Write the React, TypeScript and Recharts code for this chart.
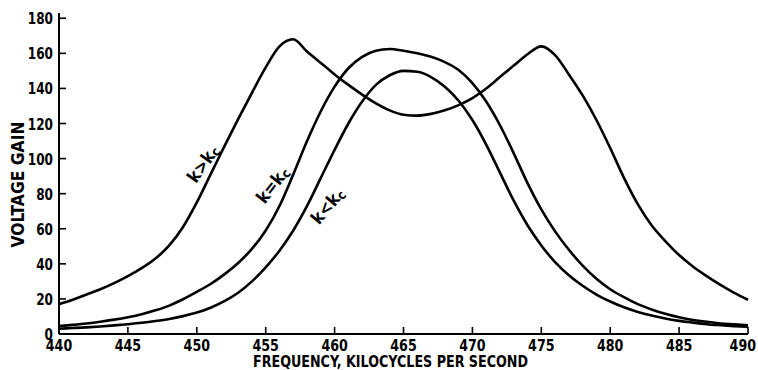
import React from 'react';
import { LineChart, Line, XAxis, YAxis, ReferenceDot } from 'recharts';

const frequencies = [
  440, 441, 442, 443, 444, 445, 446, 447, 448, 449,
  450, 451, 452, 453, 454, 455, 456, 457, 458, 459,
  460, 461, 462, 463, 464, 465, 466, 467, 468, 469,
  470, 471, 472, 473, 474, 475, 476, 477, 478, 479,
  480, 481, 482, 483, 484, 485, 486, 487, 488, 489, 490,
];

// k > kc (over-coupled, double hump)
const overCoupled = [
  17, 19.5, 22.5, 25.5, 29, 33, 37.5, 43, 50.5, 61,
  75, 91, 107, 122.5, 137.5, 152, 164, 168, 161, 154.5,
  148, 142, 136.5, 131.5, 127.5, 125, 124.5, 125.5, 127.5, 130.5,
  134.5, 140, 146.5, 153, 159.5, 164, 159, 148, 136, 122,
  106, 89, 74, 62, 53, 45, 38.5, 33, 28, 23.5, 19.5,
];

// k = kc (critical coupling, flat top)
const criticalCoupled = [
  4.5, 5.2, 6, 7, 8.2, 9.6, 11.3, 13.5, 16.2, 19.8,
  24, 28.5, 34, 40.5, 48.5, 59, 73, 91, 110, 127,
  141, 151.5, 158, 161.5, 162.5, 161.5, 160, 158, 155, 150.5,
  143, 132.5, 119, 103, 86, 71, 58.5, 48, 39, 31.5,
  25.5, 21, 17, 14, 11.5, 9.5, 8, 7, 6, 5.5, 5,
];

// k < kc (under-coupled, single peak)
const underCoupled = [
  3, 3.4, 3.8, 4.3, 4.9, 5.6, 6.4, 7.4, 8.6, 10.2,
  12.2, 15, 18.7, 23.5, 30, 38, 47.5, 59, 73, 89,
  105, 120, 132.5, 142, 147.5, 150, 149.5, 146.5, 141, 133,
  122, 108, 92, 76, 62, 50.5, 41, 33.5, 27.5, 22.5,
  18.5, 15.2, 12.6, 10.5, 8.8, 7.5, 6.5, 5.6, 5, 4.5, 4,
];

const xTicks = [440, 445, 450, 455, 460, 465, 470, 475, 480, 485, 490];
const yTicks = [0, 20, 40, 60, 80, 100, 120, 140, 160, 180];

const curveLabels = [
  { main: 'k>k', sub: 'c', f: 450.45, v: 97, angle: -55 },
  { main: 'k=k', sub: 'c', f: 455.5, v: 85, angle: -52 },
  { main: 'k<k', sub: 'c', f: 459.5, v: 73, angle: -50 },
];

const xTitle = 'FREQUENCY, KILOCYCLES PER SECOND';
const yTitle = 'VOLTAGE GAIN';

const data = frequencies.map((f, i) => ({
  f,
  over: overCoupled[i],
  crit: criticalCoupled[i],
  under: underCoupled[i],
}));

const FONT = '"DejaVu Sans Condensed", "DejaVu Sans", sans-serif';

function XTick(props: any) {
  const { x, y, payload } = props;
  const s = String(payload.value);
  const isLast = payload.value === xTicks[xTicks.length - 1];
  return (
    <g>
      <line x1={x} x2={x} y1={y} y2={y - 7} stroke="#000" strokeWidth={1.6} />
      <text
        x={isLast ? x + 8 : x}
        y={y + 17}
        textAnchor={isLast ? 'end' : 'middle'}
        fontFamily={FONT}
        fontWeight="bold"
        fontSize={16}
        fill="#000"
        textLength={s.length * 8.8}
        lengthAdjust="spacingAndGlyphs"
      >
        {s}
      </text>
    </g>
  );
}

function YTick(props: any) {
  const { x, y, payload } = props;
  const s = String(payload.value);
  return (
    <g>
      <line x1={x} x2={x + 7} y1={y} y2={y} stroke="#000" strokeWidth={1.6} />
      <text
        x={x - 6}
        y={y + 6}
        textAnchor="end"
        fontFamily={FONT}
        fontWeight="bold"
        fontSize={16}
        fill="#000"
        textLength={s.length * 8.4}
        lengthAdjust="spacingAndGlyphs"
      >
        {s}
      </text>
    </g>
  );
}

function XTitle(props: any) {
  const vb = props.viewBox || {};
  const cx = vb.x + vb.width / 2 - 13;
  const y = vb.y + 33;
  return (
    <text
      x={cx}
      y={y}
      textAnchor="middle"
      fontFamily={FONT}
      fontWeight="bold"
      fontSize={15}
      fill="#000"
      textLength={275}
      lengthAdjust="spacingAndGlyphs"
    >
      {xTitle}
    </text>
  );
}

function YTitle(props: any) {
  const vb = props.viewBox || {};
  const x = vb.x + 24;
  const cy = vb.y + vb.height / 2 + 11;
  return (
    <text
      x={x}
      y={cy}
      transform={`rotate(-90 ${x} ${cy})`}
      textAnchor="middle"
      fontFamily={FONT}
      fontWeight="bold"
      fontSize={17}
      fill="#000"
      textLength={126}
      lengthAdjust="spacingAndGlyphs"
    >
      {yTitle}
    </text>
  );
}

function makeCurveLabel(main: string, sub: string, angle: number) {
  return (p: any) => {
    const cx = p.cx;
    const cy = p.cy;
    return (
      <text
        x={cx}
        y={cy}
        transform={`rotate(${angle} ${cx} ${cy})`}
        textAnchor="middle"
        dominantBaseline="central"
        fontFamily={FONT}
        fontWeight="bold"
        fontSize={17.5}
        fill="#000"
      >
        {main}
        <tspan fontSize={13} dy={3}>
          {sub}
        </tspan>
      </text>
    );
  };
}

export default function App() {
  return (
    <div style={{ width: 758, height: 370 }}>
      <style>{'html, body { margin: 0; padding: 0; overflow: hidden; }'}</style>
      <LineChart
        width={758}
        height={370}
        data={data}
        margin={{ top: 13, right: 10, bottom: 0, left: 0 }}
      >
        <XAxis
          dataKey="f"
          type="number"
          domain={[440, 490]}
          ticks={xTicks}
          interval={0}
          height={36}
          tickSize={0}
          tickMargin={0}
          tickLine={false}
          axisLine={{ stroke: '#000', strokeWidth: 2 }}
          tick={<XTick />}
          label={<XTitle />}
        />
        <YAxis
          type="number"
          domain={[0, 183]}
          ticks={yTicks}
          interval={0}
          width={59}
          tickSize={0}
          tickMargin={0}
          tickLine={false}
          axisLine={{ stroke: '#000', strokeWidth: 2 }}
          tick={<YTick />}
          label={<YTitle />}
        />
        <Line
          type="monotone"
          dataKey="over"
          stroke="#000"
          strokeWidth={2.6}
          dot={false}
          isAnimationActive={false}
        />
        <Line
          type="monotone"
          dataKey="crit"
          stroke="#000"
          strokeWidth={2.6}
          dot={false}
          isAnimationActive={false}
        />
        <Line
          type="monotone"
          dataKey="under"
          stroke="#000"
          strokeWidth={2.6}
          dot={false}
          isAnimationActive={false}
        />
        {curveLabels.map((c) => (
          <ReferenceDot
            key={c.main}
            x={c.f}
            y={c.v}
            r={0}
            ifOverflow="visible"
            shape={makeCurveLabel(c.main, c.sub, c.angle)}
          />
        ))}
      </LineChart>
    </div>
  );
}
